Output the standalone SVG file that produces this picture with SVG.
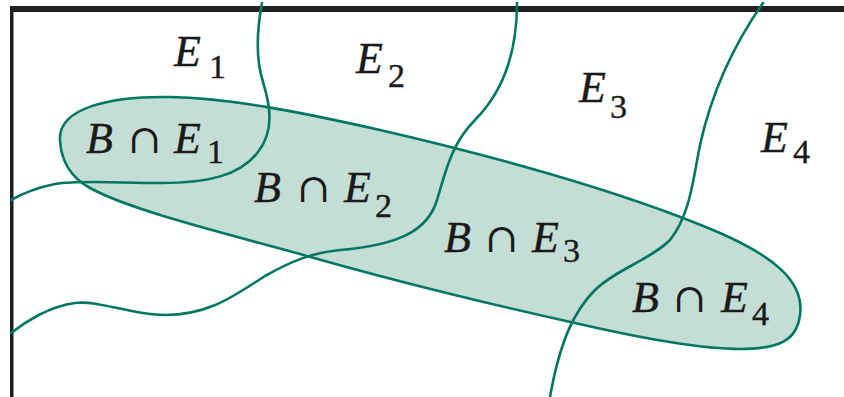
<svg xmlns="http://www.w3.org/2000/svg" width="844" height="397" viewBox="0 0 844 397">
<style>
.frame{fill:#231f20}
.curve{fill:none;stroke:#00785f;stroke-width:2.6;stroke-linejoin:round;stroke-linecap:round}
.blob{fill:#c4ddd5;stroke:#00785f;stroke-width:2.6}
.lbl{font-family:"Liberation Serif","Times New Roman",serif;font-style:italic;font-size:44px;fill:#1a1a1a;stroke:#1a1a1a;stroke-width:0.4}
.op{font-family:"DejaVu Serif",serif;font-style:normal;font-size:40px;stroke-width:0}
.sub{font-size:34px;font-style:normal}
</style>
<rect width="844" height="397" fill="#ffffff"/>
<g id="frame">
<rect class="frame" x="10" y="6" width="834" height="6"/>
<rect class="frame" x="10" y="6" width="3.5" height="391"/>
</g>
<g id="event-B">
<path class="blob" d="M 60,140 C 58,108 110,96 170,97 C 230,98 300,112 380,130 C 480,153 620,190 720,233 C 770,255 805,280 800,315 C 797,340 780,349 740,349 C 700,349 640,338 575,323 C 480,302 380,277 300,254 C 220,232 130,210 90,188 C 70,177 61,160 60,140 Z"/>
</g>
<g id="partition">
<path class="curve" d="M 262,3 C 256,35 256,60 263,82 C 270,105 275,130 258,152 C 240,175 210,183 160,183 C 120,183 80,180 55,184 C 35,188 20,195 11,200"/>
<path class="curve" d="M 517,3 C 517,50 505,90 475,120 C 450,145 445,175 437,200 C 428,230 400,245 340,250 C 310,253 290,262 265,276 C 235,295 210,315 165,315 C 130,315 100,300 75,303 C 50,306 25,322 11,333"/>
<path class="curve" d="M 763,3 C 730,50 710,100 700,145 C 693,180 690,215 670,240 C 650,260 615,270 595,290 C 575,310 560,340 550,397"/>
</g>
<g id="labels">
<text class="lbl" y="66"><tspan x="174">E</tspan><tspan class="sub" x="209" y="78">1</tspan></text>
<text class="lbl" y="73"><tspan x="356">E</tspan><tspan class="sub" x="388" y="87">2</tspan></text>
<text class="lbl" y="102"><tspan x="579">E</tspan><tspan class="sub" x="610" y="118">3</tspan></text>
<text class="lbl" y="152"><tspan x="761">E</tspan><tspan class="sub" x="793" y="163">4</tspan></text>
<text class="lbl" y="153"><tspan x="86">B</tspan><tspan class="op" x="128">∩</tspan><tspan x="174">E</tspan><tspan class="sub" x="207" y="163">1</tspan></text>
<text class="lbl" y="202"><tspan x="254">B</tspan><tspan class="op" x="297">∩</tspan><tspan x="344">E</tspan><tspan class="sub" x="375" y="217">2</tspan></text>
<text class="lbl" y="252"><tspan x="444">B</tspan><tspan class="op" x="485">∩</tspan><tspan x="532">E</tspan><tspan class="sub" x="563" y="262">3</tspan></text>
<text class="lbl" y="312"><tspan x="632">B</tspan><tspan class="op" x="673">∩</tspan><tspan x="721">E</tspan><tspan class="sub" x="752" y="325">4</tspan></text>
</g>
</svg>
